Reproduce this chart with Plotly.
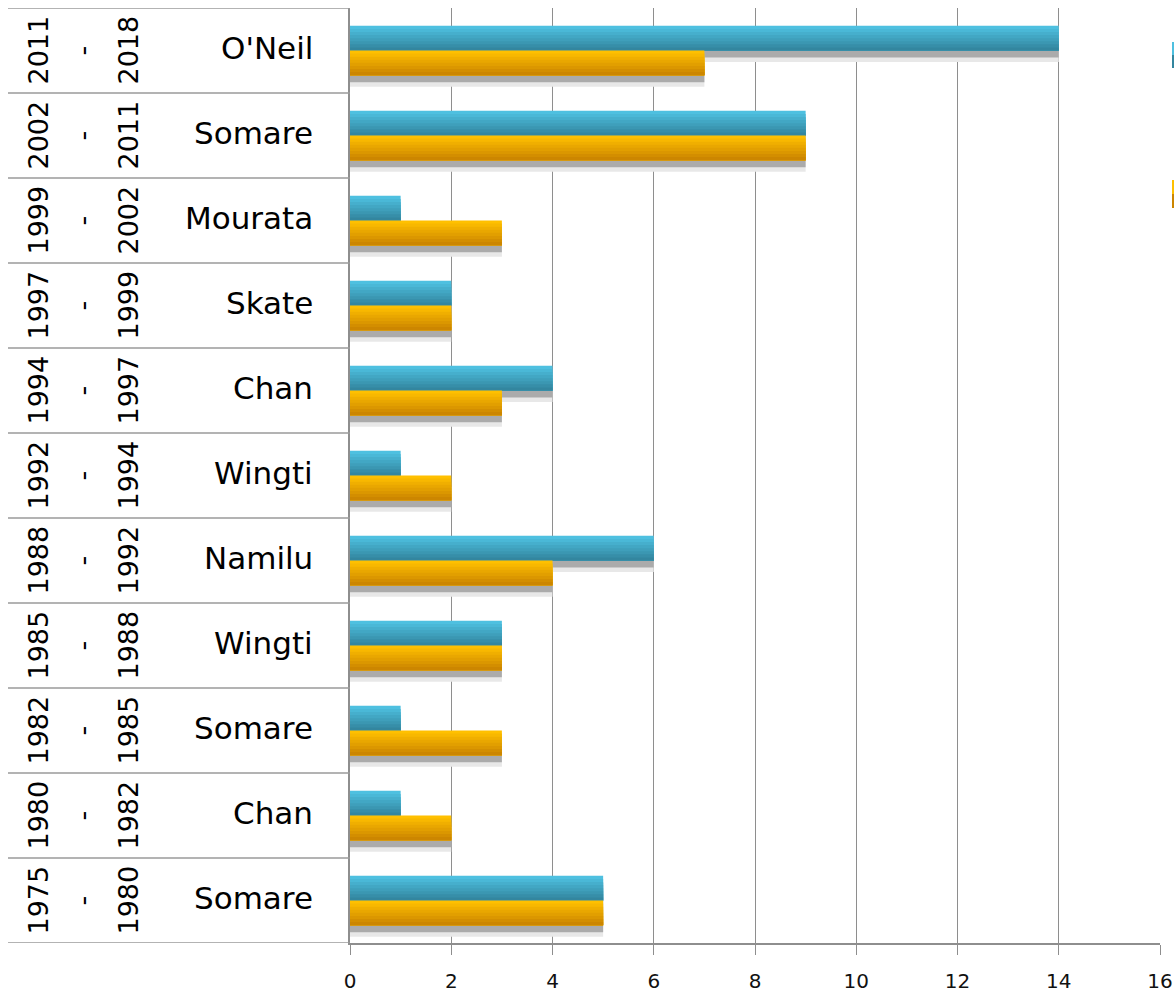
import plotly.graph_objects as go

# ---- data (bottom row first) ----
names = ["Somare", "Chan", "Somare", "Wingti", "Namilu", "Wingti",
         "Chan", "Skate", "Mourata", "Somare", "O'Neil"]
start_years = ["1975", "1980", "1982", "1985", "1988", "1992",
               "1994", "1997", "1999", "2002", "2011"]
end_years = ["1980", "1982", "1985", "1988", "1992", "1994",
             "1997", "1999", "2002", "2011", "2018"]
series_a = [5, 1, 1, 3, 6, 1, 4, 2, 1, 9, 14]   # teal
series_b = [5, 2, 3, 3, 4, 2, 3, 2, 3, 9, 7]    # orange
x_ticks = [0, 2, 4, 6, 8, 10, 12, 14, 16]

pos = list(range(len(names)))

W = 1174
H = 993
L, R, T, B = 350, 14, 8, 50
pw = W - L - R

def px_to_paper(px):
    return (px - L) / pw

def lerp_hex(c1, c2, t):
    a = [int(c1[i:i + 2], 16) for i in (1, 3, 5)]
    b = [int(c2[i:i + 2], 16) for i in (1, 3, 5)]
    return "#" + "".join(f"{round(a[i] + (b[i] - a[i]) * t):02x}" for i in range(3))

fig = go.Figure()

BW = 0.29
# shadows (drawn first)
for top, (off, col) in [("a", (-0.135, "#e8e8e8")), ("a2", (-0.083, "#ababab")),
                        ("b", (-BW - 0.135, "#e8e8e8")), ("b2", (-BW - 0.083, "#ababab"))]:
    vals = series_a if top.startswith("a") else series_b
    fig.add_trace(go.Bar(y=pos, x=vals, orientation="h", offset=off, width=BW,
                         marker=dict(color=col, line=dict(width=0)),
                         hoverinfo="skip", showlegend=False))

N = 8
def gradient_bars(vals, base_off, c_top, c_bot):
    # layered bands: each next band covers from bar bottom to a lower top
    for k in range(N):
        t = k / (N - 1)
        h = BW * (N - k) / N
        fig.add_trace(go.Bar(y=pos, x=vals, orientation="h", offset=base_off, width=h,
                             marker=dict(color=lerp_hex(c_top, c_bot, t), line=dict(width=0)),
                             hoverinfo="skip", showlegend=False))

gradient_bars(series_a, 0.0, "#4ec0e0", "#33869f")
gradient_bars(series_b, -BW, "#ffc000", "#cc8600")

shapes = []
# table row separators
for i in range(len(names) + 1):
    yv = i - 0.5
    shapes.append(dict(type="line", xref="paper", yref="y",
                       x0=px_to_paper(8), x1=px_to_paper(350), y0=yv, y1=yv,
                       line=dict(color="#9a9a9a", width=1.5), layer="above"))
# legend slivers (cut off at right edge)
for (y0p, y1p, c1, c2) in [(42, 68, "#4ec0e0", "#33869f"), (180, 208, "#ffc000", "#cc8600")]:
    mid = (y0p + y1p) / 2
    for (a, b, c) in [(y0p, mid, c1), (mid, y1p, c2)]:
        shapes.append(dict(type="rect", xref="paper", yref="paper",
                           x0=px_to_paper(1172), x1=px_to_paper(1180),
                           y0=(H - B - b) / (H - T - B), y1=(H - B - a) / (H - T - B),
                           fillcolor=c, line=dict(width=0)))

annotations = []
for i in pos:
    annotations.append(dict(x=px_to_paper(38), y=i, xref="paper", yref="y",
                            text=start_years[i], textangle=-90, showarrow=False,
                            xanchor="center", yanchor="middle",
                            font=dict(family="DejaVu Sans", size=27, color="#000")))
    annotations.append(dict(x=px_to_paper(82), y=i, xref="paper", yref="y",
                            text="-", textangle=-90, showarrow=False,
                            xanchor="center", yanchor="middle",
                            font=dict(family="DejaVu Sans", size=27, color="#000")))
    annotations.append(dict(x=px_to_paper(128), y=i, xref="paper", yref="y",
                            text=end_years[i], textangle=-90, showarrow=False,
                            xanchor="center", yanchor="middle",
                            font=dict(family="DejaVu Sans", size=27, color="#000")))
    annotations.append(dict(x=px_to_paper(315), y=i + 0.03, xref="paper", yref="y",
                            text=names[i], showarrow=False,
                            xanchor="right", yanchor="middle",
                            font=dict(family="DejaVu Sans", size=31, color="#000")))

fig.update_layout(
    width=W, height=H,
    margin=dict(l=L, r=R, t=T, b=B, autoexpand=False),
    barmode="overlay",
    plot_bgcolor="white", paper_bgcolor="white",
    showlegend=False,
    shapes=shapes, annotations=annotations,
    xaxis=dict(range=[0, 16], tickvals=x_ticks, ticktext=[str(v) for v in x_ticks],
               showgrid=True, gridcolor="#8e8e8e", gridwidth=1,
               ticks="outside", ticklen=10, tickcolor="#8e8e8e",
               showline=True, linecolor="#8e8e8e", linewidth=1.5,
               zeroline=False, ticklabelstandoff=9,
               tickfont=dict(family="DejaVu Sans", size=20, color="#111")),
    yaxis=dict(range=[-0.5, len(names) - 0.5], tickvals=pos, showticklabels=False,
               showgrid=False, zeroline=False, showline=True,
               linecolor="#8e8e8e", linewidth=2, ticks=""),
)

fig.write_html("out.html", config={"displayModeBar": False},
               post_script="document.body.style.margin='0';document.body.style.overflow='hidden';")
